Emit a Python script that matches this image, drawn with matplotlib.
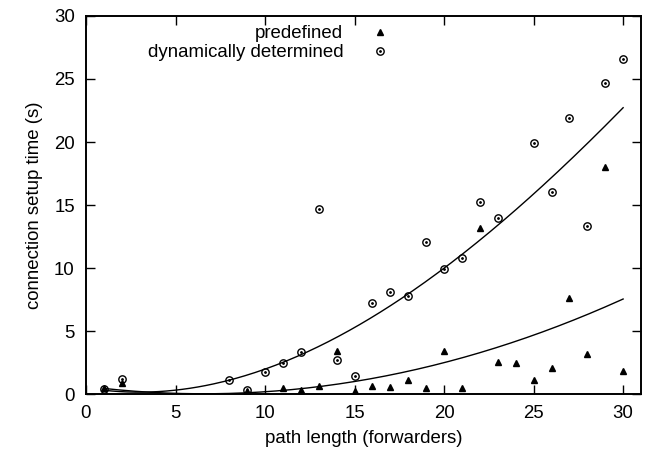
import numpy as np
import matplotlib.pyplot as plt
from matplotlib.legend_handler import HandlerTuple

plt.rcParams['font.family'] = ['Liberation Sans', 'DejaVu Sans']
plt.rcParams['font.size'] = 13.4

# dynamically determined path (circles)
dyn_x = [1, 2, 8, 9, 10, 11, 12, 13, 14, 15, 16, 17, 18, 19, 20, 21, 22, 23, 25, 26, 27, 28, 29, 30]
dyn_y = [0.4, 1.2, 1.15, 0.35, 1.75, 2.5, 3.35, 14.7, 2.7, 1.45, 7.25, 8.1, 7.8, 12.1, 9.95, 10.8,
         15.25, 14.0, 19.95, 16.05, 21.9, 13.3, 24.7, 26.6]

# predefined path (triangles)
pre_x = [1, 2, 9, 11, 12, 13, 14, 15, 16, 17, 18, 19, 20, 21, 22, 23, 24, 25, 26, 27, 28, 29, 30]
pre_y = [0.5, 0.85, 0.2, 0.45, 0.3, 0.65, 3.45, 0.2, 0.63, 0.55, 1.15, 0.45, 3.4, 0.45, 13.2, 2.55,
         2.5, 1.15, 2.1, 7.6, 3.2, 18.05, 1.85]

# fitted trend curves (polynomial coefficients, highest power first)
fit_dyn = [-0.00030176, 0.041715, -0.239113, 0.4977]
fit_pre = [0.0137, -0.18, 0.61]
fit_range = (1, 30)

fig = plt.figure(figsize=(6.46, 4.53), dpi=100)
ax = fig.add_axes([0.1331, 0.1302, 0.8592, 0.8345])

xs = np.linspace(fit_range[0], fit_range[1], 200)
ax.plot(xs, np.polyval(fit_dyn, xs), color='black', lw=1.0, zorder=2)
ax.plot(xs, np.polyval(fit_pre, xs), color='black', lw=1.0, zorder=2)

h_pre, = ax.plot(pre_x, pre_y, ls='none', marker='^', ms=4.2, mfc='black', mec='black', zorder=3)
h_dyn, = ax.plot(dyn_x, dyn_y, ls='none', marker='o', ms=5.3, mfc='none', mec='black', mew=1.0, zorder=3)
h_dot, = ax.plot(dyn_x, dyn_y, ls='none', marker='o', ms=1.0, mfc='black', mec='black', zorder=3)

ax.legend([h_pre, (h_dyn, h_dot)], ['predefined', 'dynamically determined'],
          handler_map={tuple: HandlerTuple(ndivide=1, pad=0)},
          loc='upper right', bbox_to_anchor=(386 / 646, 1 - 25 / 453), bbox_transform=fig.transFigure,
          frameon=False, markerfirst=False, handlelength=0.6, handletextpad=1.7,
          borderpad=0, borderaxespad=0, labelspacing=0.12, fontsize=13.4)

ax.set_xlim(0, 31)
ax.set_ylim(0, 30)
ax.set_xticks([0, 5, 10, 15, 20, 25, 30])
ax.set_yticks([0, 5, 10, 15, 20, 25, 30])
ax.tick_params(direction='in', length=6.5, width=1.0, top=True, right=True, labelsize=13.4, pad=8)
for s in ax.spines.values():
    s.set_linewidth(1.4)

ax.set_xlabel('path length (forwarders)', fontsize=13.4, labelpad=6)
ax.set_ylabel('connection setup time (s)', fontsize=13.4, labelpad=8)

fig.savefig('out.png', dpi=100)
